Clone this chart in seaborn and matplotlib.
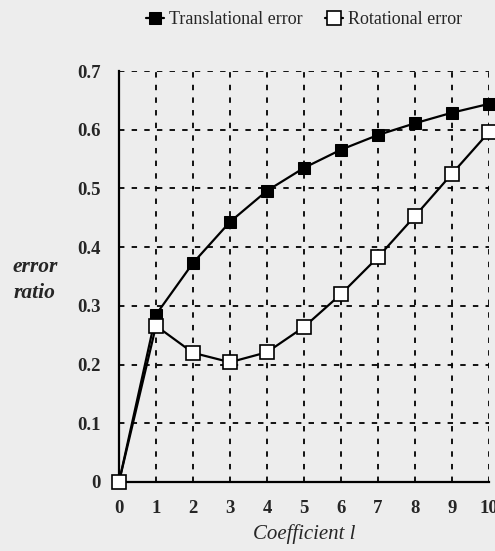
import numpy as np
import pandas as pd
import matplotlib
matplotlib.use("Agg")
import matplotlib.pyplot as plt
import seaborn as sns

# values
coef = [0, 1, 2, 3, 4, 5, 6, 7, 8, 9, 10]
translational = [0.0, 0.285, 0.373, 0.443, 0.496, 0.535, 0.566, 0.591, 0.611, 0.629, 0.644]
rotational = [0.0, 0.266, 0.220, 0.204, 0.221, 0.264, 0.320, 0.383, 0.453, 0.525, 0.596]
x_ticks = list(range(0, 11))
y_ticks = [0, 0.1, 0.2, 0.3, 0.4, 0.5, 0.6, 0.7]
y_labels = ["0", "0.1", "0.2", "0.3", "0.4", "0.5", "0.6", "0.7"]

df = pd.DataFrame({
    "coef": coef * 2,
    "ratio": translational + rotational,
    "series": ["Translational error"] * len(coef) + ["Rotational error"] * len(coef),
})

sns.set_style("ticks")
plt.rcParams["font.family"] = ["Liberation Serif", "DejaVu Serif"]
bg = "#ededed"

fig = plt.figure(figsize=(4.95, 5.51), dpi=100, facecolor=bg)
ax = fig.add_axes([119 / 495, 1 - 482 / 551, 370 / 495, 411 / 551])
ax.set_facecolor(bg)

trans = df[df["series"] == "Translational error"]
rot = df[df["series"] == "Rotational error"]
sns.lineplot(data=trans, x="coef", y="ratio", ax=ax, color="black", lw=1.6,
             marker="s", markersize=8, markerfacecolor="black", markeredgecolor="black",
             label="Translational error", zorder=3, clip_on=False)
sns.lineplot(data=rot, x="coef", y="ratio", ax=ax, color="black", lw=1.6,
             marker="s", markersize=10, markerfacecolor="white", markeredgecolor="black",
             markeredgewidth=1.2, label="Rotational error", zorder=4, clip_on=False)

ax.set_xlim(0, 10)
ax.set_ylim(0, 0.7)
ax.set_xticks(x_ticks)
ax.set_yticks(y_ticks)
ax.set_yticklabels(y_labels)
ax.grid(True, color="black", linestyle=(0, (3, 4)), linewidth=1.3)
ax.tick_params(length=0, labelsize=13.5)
ax.tick_params(axis="y", pad=13)
ax.tick_params(axis="x", pad=13)
for lab in ax.get_xticklabels() + ax.get_yticklabels():
    lab.set_fontweight("semibold")
for s in ["top", "right"]:
    ax.spines[s].set_visible(False)
for s in ["left", "bottom"]:
    ax.spines[s].set_linewidth(1.6)
    ax.spines[s].set_color("black")

ax.set_xlabel("Coefficient l", fontsize=15, fontstyle="italic", labelpad=5)
ax.set_ylabel("")
fig.text(35 / 495, 1 - 280 / 551, "error\nratio", fontsize=15.5, fontstyle="italic",
         fontweight="bold", ha="center", va="center", linespacing=1.35)

ax.legend(loc="lower center", bbox_to_anchor=(0.5, 1.065), ncol=2, frameon=False,
          fontsize=13, handlelength=1.0, handletextpad=0.3, columnspacing=1.2)

fig.savefig("out.png", dpi=100, facecolor=bg)
